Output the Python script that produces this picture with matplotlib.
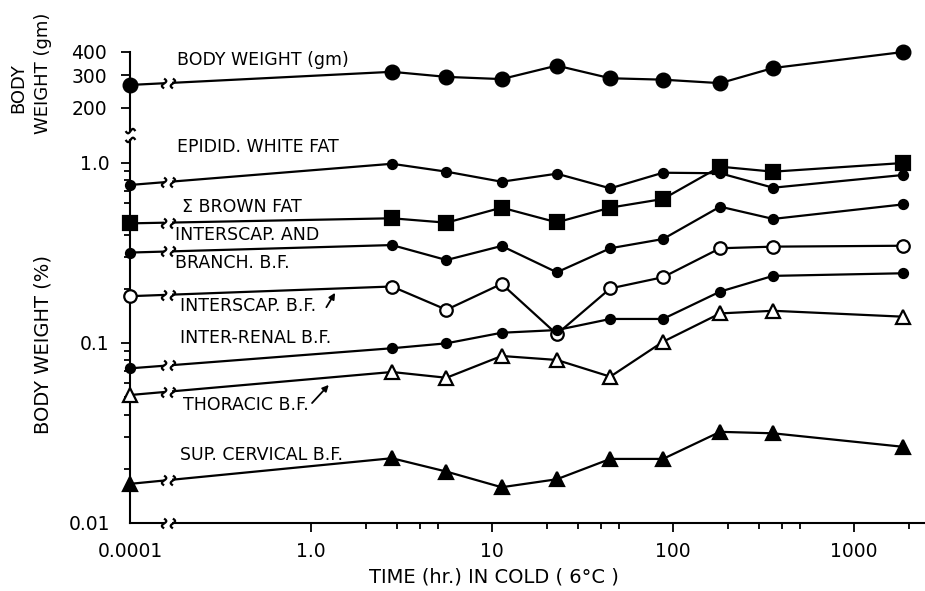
import numpy as np
import matplotlib
matplotlib.use('Agg')
import matplotlib.pyplot as plt
import matplotlib.transforms as mtrans
from matplotlib.path import Path
from matplotlib.ticker import FixedLocator, NullFormatter

# ---------------- data ----------------
time_hr = [0.0001, 2.8, 5.6, 11.3, 22.8, 45, 88, 182, 357, 1870]

body_weight = [266, 313, 294, 286, 338, 289, 284, 272, 328, 400]          # gm
epidid_white = [0.755, 0.99, 0.895, 0.787, 0.872, 0.723, 0.883, 0.877, 0.729, 0.858]
brown_total = [0.462, 0.493, 0.466, 0.565, 0.468, 0.565, 0.631, 0.954, 0.895, 1.0]
interscap_branch = [0.318, 0.350, 0.289, 0.346, 0.247, 0.336, 0.378, 0.572, 0.489, 0.589]
interscap = [0.182, 0.206, 0.153, 0.213, 0.112, 0.201, 0.232, 0.336, 0.343, 0.347]
inter_renal = [0.0723, 0.0935, 0.0996, 0.114, 0.118, 0.136, 0.136, 0.193, 0.236, 0.244]
thoracic = [0.0514, 0.069, 0.0641, 0.0847, 0.0805, 0.065, 0.1016, 0.146, 0.151, 0.140]
sup_cervical = [0.0165, 0.0229, 0.0193, 0.0158, 0.0175, 0.0227, 0.0227, 0.0321, 0.0315, 0.0265]

x_major = [0.0001, 1, 10, 100, 1000]
x_major_labels = ['0.0001', '1.0', '10', '100', '1000']
x_minor = [m * d for d in [1, 10, 100, 1000] for m in [2, 3, 4, 5]]
bw_ticks = [200, 300, 400]
pct_ticks = [0.01, 0.1, 1.0]
pct_labels = ['0.01', '0.1', '1.0']

t_break = 6.8e-4   # where the time axis is broken


# log axis where everything below 1 hr is squeezed 4x
def fwd(t):
    lt = np.log10(np.clip(np.asarray(t, float), 1e-12, None))
    return np.where(lt < 0, lt / 4.0, lt)


def inv(u):
    u = np.asarray(u, float)
    return np.where(u < 0, 10.0 ** (4.0 * u), 10.0 ** u)


# break marks: two little S curves, plus a white patch between them
yy = np.linspace(-1, 1, 31)
xx = 0.45 * np.sin(np.pi * yy)
verts = list(zip(xx - 0.9, yy)) + list(zip(xx + 0.9, yy))
codes = ([Path.MOVETO] + [Path.LINETO] * 30) * 2
brk_v = Path(verts, codes)
brk_h = Path([(b, a) for a, b in verts], codes)
mask = Path([(-0.9, -0.35), (0.9, -0.35), (0.9, 0.35), (-0.9, 0.35), (-0.9, -0.35)],
            [Path.MOVETO, Path.LINETO, Path.LINETO, Path.LINETO, Path.CLOSEPOLY])
BRK_MS = 9.5
MASK_MS = BRK_MS * 0.9 / 1.35


def break_mark(ax, x, y, **kw):
    ax.plot([x], [y], marker=mask, ms=MASK_MS, mfc='white', mec='white', mew=0,
            ls='none', zorder=6, clip_on=False, **kw)
    ax.plot([x], [y], marker=brk_v, ms=BRK_MS, mfc='none', mec='black', mew=1.6,
            ls='none', zorder=7, clip_on=False, **kw)


def break_y(t, y):
    u0, u1, ub = fwd(t[0]), fwd(t[1]), fwd(t_break)
    f = (ub - u0) / (u1 - u0)
    return 10 ** (np.log10(y[0]) + f * (np.log10(y[1]) - np.log10(y[0])))


W, H = 925, 591
fig = plt.figure(figsize=(W / 100, H / 100), dpi=100)
plt.rcParams['font.family'] = ['DejaVu Sans']

ax = fig.add_axes([130 / W, (H - 523) / H, 795 / W, (523 - 140) / H])
axt = fig.add_axes([130 / W, (H - 130) / H, 795 / W, (130 - 52) / H], sharex=ax)

for a in (ax, axt):
    a.set_xscale('function', functions=(fwd, inv))
    a.set_yscale('log')
    a.spines['top'].set_visible(False)
    a.spines['right'].set_visible(False)
    for s in a.spines.values():
        s.set_linewidth(1.5)
    a.patch.set_visible(False)

axt.spines['bottom'].set_visible(False)
axt.tick_params(axis='x', which='both', bottom=False, labelbottom=False)

ax.set_xlim(0.0001, 2466)
ax.set_ylim(0.01, 1.342)
axt.set_ylim(152.3, 400)

LW = 1.6

# --- body weight panel
axt.plot(time_hr, body_weight, color='black', lw=LW, marker='o', ms=10.5,
         mfc='black', mec='black', zorder=5, clip_on=False)
break_mark(axt, t_break, break_y(time_hr, body_weight))

# --- fat depots
series = [
    (epidid_white, 'o', 6.5, 'black'),
    (brown_total, 's', 10, 'black'),
    (interscap_branch, 'o', 6.5, 'black'),
    (interscap, 'o', 9, 'white'),
    (inter_renal, 'o', 6.5, 'black'),
    (thoracic, '^', 9.5, 'white'),
    (sup_cervical, '^', 10.5, 'black'),
]
for vals, mk, ms, fc in series:
    ax.plot(time_hr, vals, color='black', lw=LW, marker=mk, ms=ms, mfc=fc,
            mec='black', mew=1.6, zorder=5, clip_on=False)
    break_mark(ax, t_break, break_y(time_hr, vals))

# break on the time axis
break_mark(ax, t_break, 0.01)
# break on the y axis, between the two panels
ax.plot([0], [1 + 5 / 383], marker=brk_h, ms=BRK_MS, mfc='none', mec='black', mew=1.6,
        ls='none', transform=ax.transAxes, clip_on=False, zorder=7)

# ticks
ax.xaxis.set_major_locator(FixedLocator(x_major))
ax.set_xticklabels(x_major_labels)
ax.xaxis.set_minor_locator(FixedLocator(x_minor))
ax.xaxis.set_minor_formatter(NullFormatter())
ax.yaxis.set_major_locator(FixedLocator(pct_ticks))
ax.set_yticklabels(pct_labels)
ax.yaxis.set_minor_locator(FixedLocator([m * d for d in [0.01, 0.1] for m in range(2, 10)]))
ax.yaxis.set_minor_formatter(NullFormatter())
axt.yaxis.set_major_locator(FixedLocator(bw_ticks))
axt.set_yticklabels([str(v) for v in bw_ticks])
axt.yaxis.set_minor_locator(FixedLocator([]))

ax.tick_params(axis='both', which='major', direction='out', length=6.5, width=1.3,
               labelsize=13.5)
ax.tick_params(axis='both', which='minor', direction='out', length=4, width=1.3)
ax.tick_params(axis='x', which='major', pad=7)
ax.tick_params(axis='y', which='major', pad=8)
axt.tick_params(axis='y', which='major', direction='out', length=6.5, width=1.3,
                labelsize=13.5, pad=10)
ax.xaxis.get_major_ticks()[0].tick1line.set_visible(False)
ax.yaxis.get_major_ticks()[0].tick1line.set_visible(False)

# curve labels
tr = mtrans.blended_transform_factory(ax.transAxes, ax.transData)
trt = mtrans.blended_transform_factory(axt.transAxes, axt.transData)
fs = 12.5
axt.text((177 - 130) / 795, 362, 'BODY WEIGHT (gm)', transform=trt, fontsize=fs, va='center')
labels = [
    (177, 1.227, 'EPIDID. WHITE FAT'),
    (182, 0.570, '\u03a3 BROWN FAT'),
    (175, 0.398, 'INTERSCAP. AND'),
    (175, 0.278, 'BRANCH. B.F.'),
    (180, 0.160, 'INTERSCAP. B.F.'),
    (180, 0.1066, 'INTER-RENAL B.F.'),
    (183, 0.0453, 'THORACIC B.F.'),
    (180, 0.0239, 'SUP. CERVICAL B.F.'),
]
for px, yv, s in labels:
    ax.text((px - 130) / 795, yv, s, transform=tr, fontsize=fs, va='center', zorder=8)

arrow = dict(arrowstyle='-|>', lw=1.3, color='black', mutation_scale=9,
             shrinkA=0, shrinkB=0)
ax.annotate('', xy=(0.258, 0.190), xytext=(0.247, 0.158), xycoords=tr, textcoords=tr,
            arrowprops=arrow)
ax.annotate('', xy=(0.250, 0.0585), xytext=(0.229, 0.0464), xycoords=tr, textcoords=tr,
            arrowprops=arrow)

# axis titles
fig.text(43 / W, (H - 345) / H, 'BODY WEIGHT (%)', rotation=90, fontsize=14,
         ha='center', va='center')
fig.text(18 / W, (H - 88) / H, 'BODY', rotation=90, fontsize=13, ha='center', va='center')
fig.text(43 / W, (H - 73) / H, 'WEIGHT (gm)', rotation=90, fontsize=13,
         ha='center', va='center')
fig.text(494 / W, (H - 577) / H, 'TIME (hr.) IN COLD ( 6\u00b0C )', fontsize=14,
         ha='center', va='center')

fig.savefig('out.png', dpi=100)
